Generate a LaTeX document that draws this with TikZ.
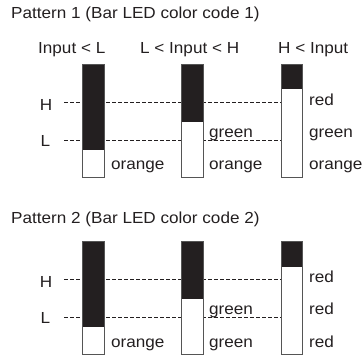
\documentclass[tikz,border=0pt]{standalone}
\usepackage{fontspec}
\setmainfont{Liberation Sans}[FakeStretch=1.07]
\definecolor{tinta}{HTML}{231F20}
\definecolor{borde}{HTML}{555555}

\begin{document}
\begin{tikzpicture}[x=1pt,y=-1pt,
        texto/.style={inner sep=0pt,text=tinta,font=\fontsize{16}{19}\selectfont},
        rotulo/.style={texto,anchor=base west},
        barra/.style={draw=borde,line width=0.9pt},
        nivel/.style={draw=tinta,line width=0.7pt,dash pattern=on 3.5pt off 2.5pt}]
        \useasboundingbox (0,0) rectangle (364,358);
        % Patron 1
        \node[rotulo] (tit1) at (11,19) {Pattern 1 (Bar LED color code 1)};
        \node[rotulo] (cabA) at (38,54) {Input < L};
        \node[rotulo] (cabB) at (140,54) {L < Input < H};
        \node[rotulo] (cabC) at (278,54) {H < Input};
        \node[texto] (h1) at (46,104.5) {H};
        \node[texto] (l1) at (45.5,140.7) {L};
        \coordinate (h1fin) at (281,102.5);
        \coordinate (l1fin) at (281,140);
        \draw[nivel] (64,102.5) -- (h1fin);
        \draw[nivel] (64,140) -- (l1fin);
        \fill[white] (82.5,64) rectangle (104,177.5);
        \fill[tinta] (82.5,64) rectangle (104,150);
        \draw[barra] (82.5,64) rectangle (104,177.5);
        \fill[white] (181,64) rectangle (203,177.5);
        \fill[tinta] (181,64) rectangle (203,122);
        \draw[barra] (181,64) rectangle (203,177.5);
        \fill[white] (281,64) rectangle (302.5,177.5);
        \fill[tinta] (281,64) rectangle (302.5,89.5);
        \draw[barra] (281,64) rectangle (302.5,177.5);
        \node[rotulo] (a1) at (111,170) {orange};
        \node[rotulo] (b1) at (209,137.5) {green};
        \node[rotulo] (b2) at (209,170) {orange};
        \node[rotulo] (c1) at (309,105.5) {red};
        \node[rotulo] (c2) at (309,137.5) {green};
        \node[rotulo] (c3) at (309,170) {orange};
        % Patron 2
        \node[rotulo] (tit2) at (11,223) {Pattern 2 (Bar LED color code 2)};
        \node[texto] (h2) at (46,281.5) {H};
        \node[texto] (l2) at (45.5,317.7) {L};
        \coordinate (h2fin) at (281,279.5);
        \coordinate (l2fin) at (281,317);
        \draw[nivel] (64,279.5) -- (h2fin);
        \draw[nivel] (64,317) -- (l2fin);
        \fill[white] (82.5,241) rectangle (104,354.5);
        \fill[tinta] (82.5,241) rectangle (104,327);
        \draw[barra] (82.5,241) rectangle (104,354.5);
        \fill[white] (181,241) rectangle (203,354.5);
        \fill[tinta] (181,241) rectangle (203,299);
        \draw[barra] (181,241) rectangle (203,354.5);
        \fill[white] (281,241) rectangle (302.5,354.5);
        \fill[tinta] (281,241) rectangle (302.5,266.5);
        \draw[barra] (281,241) rectangle (302.5,354.5);
        \node[rotulo] (d1) at (111,347) {orange};
        \node[rotulo] (e1) at (209,314.5) {green};
        \node[rotulo] (e2) at (209,347) {green};
        \node[rotulo] (f1) at (309,282.5) {red};
        \node[rotulo] (f2) at (309,314.5) {red};
        \node[rotulo] (f3) at (309,347) {red};
\end{tikzpicture}
\end{document}
